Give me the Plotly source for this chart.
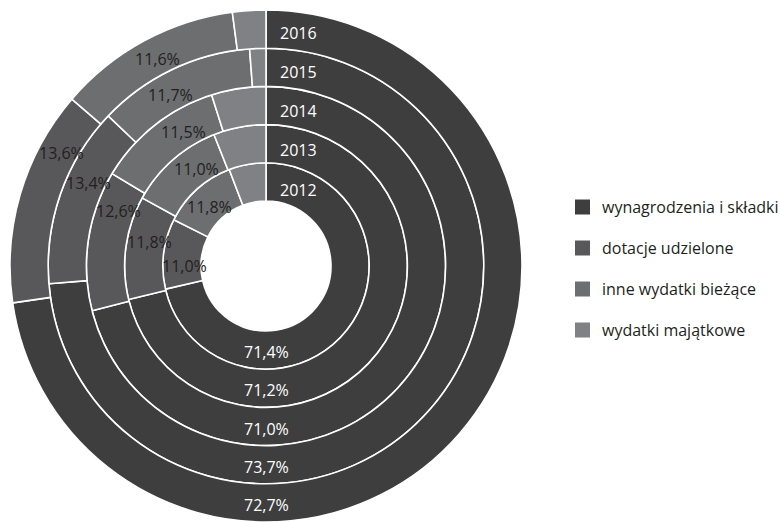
import math
import plotly.graph_objects as go

# ---- data ----
years = ["2012", "2013", "2014", "2015", "2016"]
categories = ["wynagrodzenia i składki", "dotacje udzielone",
              "inne wydatki bieżące", "wydatki majątkowe"]
wynagrodzenia = [71.4, 71.2, 71.0, 73.7, 72.7]
dotacje = [11.0, 11.8, 12.6, 13.4, 13.6]
inne = [11.8, 11.0, 11.5, 11.7, 11.6]
majatkowe = [5.8, 6.0, 4.9, 1.2, 2.1]

# ---- style / layout ----
colors = ["#3e3e3e", "#58585a", "#6d6e70", "#808184"]
W, H = 780, 522
CX, CY = 266, 266
R_OUT, R_HOLE = 256, 65
RING = (R_OUT - R_HOLE) / len(years)
FONT = "Open Sans"
dot_frac = [0.33, 0.60, 0.77, 0.62, 0.76]   # label placement along slice
inne_frac = [0.46, 0.65, 0.66, 0.41, 0.52]


def px_to_paper(x, y):
    return x / W, 1 - y / H


def polar_pt(r, deg):
    a = math.radians(deg)
    return CX + r * math.sin(a), CY - r * math.cos(a)


def fmt(v):
    return f"{v:.1f}".replace(".", ",") + "%"


def label(px, py, text, color, xanchor="center"):
    ax, ay = px_to_paper(px, py)
    return dict(x=ax, y=ay, xref="paper", yref="paper",
                xanchor=xanchor, yanchor="middle",
                text=text, showarrow=False,
                font=dict(family=FONT, size=16, color=color))


fig = go.Figure()
annotations = []

for i, yr in enumerate(years):
    vals = [wynagrodzenia[i], dotacje[i], inne[i], majatkowe[i]]
    r_in = R_HOLE + i * RING
    r_out = r_in + RING
    x0, y0 = px_to_paper(CX - r_out, CY + r_out)
    x1, y1 = px_to_paper(CX + r_out, CY - r_out)
    fig.add_trace(go.Pie(
        values=vals, labels=categories, name=yr,
        sort=False, direction="clockwise", rotation=0,
        hole=r_in / r_out,
        domain=dict(x=[max(0, x0), x1], y=[max(0, y0), y1]),
        marker=dict(colors=colors, line=dict(color="white", width=1.6)),
        textinfo="none", showlegend=False,
        hovertemplate=yr + "<br>%{label}: %{value}%<extra></extra>",
    ))
    rm = (r_in + r_out) / 2
    total = sum(vals)
    # dark slice label at bottom
    px, py = polar_pt(rm + 2, 180)
    annotations.append(label(px, py, fmt(wynagrodzenia[i]), "white"))
    # dotacje
    start = wynagrodzenia[i] / total * 360
    span = dotacje[i] / total * 360
    px, py = polar_pt(rm - 3, start + dot_frac[i] * span)
    annotations.append(label(px, py, fmt(dotacje[i]), "#231f20"))
    # inne
    start2 = start + span
    span2 = inne[i] / total * 360
    px, py = polar_pt(rm - 3, start2 + inne_frac[i] * span2)
    annotations.append(label(px, py, fmt(inne[i]), "#231f20"))
    # year label
    yx = CX + 32
    yy = CY - math.sqrt(rm ** 2 - 32 ** 2) + 2
    annotations.append(label(yx, yy, yr, "white"))

# ---- manual legend ----
shapes = []
LEG_X, LEG_Y0, LEG_DY, SQ = 575, 207, 41, 15
for k, cat in enumerate(categories):
    yc = LEG_Y0 + k * LEG_DY
    sx0, sy0 = px_to_paper(LEG_X, yc + SQ / 2)
    sx1, sy1 = px_to_paper(LEG_X + SQ, yc - SQ / 2)
    shapes.append(dict(type="rect", xref="paper", yref="paper",
                       x0=sx0, y0=sy0, x1=sx1, y1=sy1,
                       fillcolor=colors[k], line=dict(width=0)))
    annotations.append(label(LEG_X + SQ + 10, yc, cat, "#231f20",
                             xanchor="left"))

fig.update_layout(
    width=W, height=H,
    margin=dict(l=0, r=0, t=0, b=0),
    paper_bgcolor="white", plot_bgcolor="white",
    annotations=annotations, shapes=shapes,
    showlegend=False,
    font=dict(family=FONT),
)

fig.write_html("out.html")
